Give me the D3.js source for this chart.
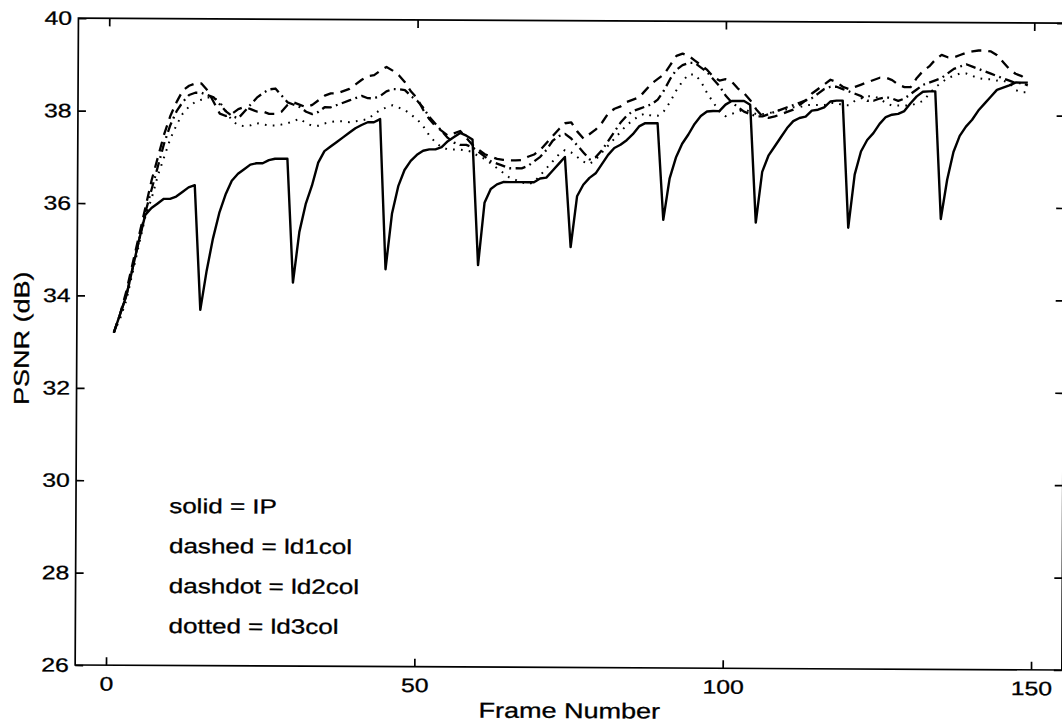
<!DOCTYPE html>
<html>
<head>
<meta charset="utf-8">
<script src="https://cdn.jsdelivr.net/npm/d3@7"></script>
<style>
  html, body { margin: 0; padding: 0; background: #fff; }
  svg { display: block; }
  text { font-family: "Liberation Sans", Arial, Helvetica, sans-serif; fill: #000; stroke: #000; stroke-width: 0.3px; }
</style>
</head>
<body>
<svg id="chart" width="1062" height="727"></svg>
<script>
// Frame index 1..149
const frames = d3.range(1, 150);

// PSNR (dB) per frame, IP coding (solid)
const psnrIP = [
  33.2, 33.6, 34.0, 34.6, 35.2, 35.75, 35.9, 36.0, 36.1, 36.1, 36.15, 36.25, 36.35, 36.4, 33.7,
  34.55, 35.25, 35.8, 36.2, 36.5, 36.65, 36.75, 36.85, 36.88, 36.88, 36.95, 36.98, 36.98, 36.98, 34.3,
  35.4, 36.0, 36.4, 36.9, 37.15, 37.25, 37.35, 37.45, 37.55, 37.65, 37.72, 37.78, 37.78, 37.85, 34.6,
  35.8, 36.4, 36.75, 36.95, 37.08, 37.17, 37.2, 37.2, 37.25, 37.38, 37.47, 37.56, 37.5, 37.42, 34.7,
  36.05, 36.35, 36.45, 36.5, 36.5, 36.5, 36.5, 36.5, 36.5, 36.58, 36.6, 36.75, 36.9, 37.05, 35.1,
  36.2, 36.45, 36.6, 36.7, 36.9, 37.1, 37.25, 37.32, 37.42, 37.55, 37.72, 37.79, 37.79, 37.79, 35.7,
  36.6, 37.05, 37.35, 37.55, 37.78, 37.95, 38.05, 38.06, 38.06, 38.2, 38.28, 38.28, 38.28, 38.2, 35.65,
  36.75, 37.1, 37.3, 37.5, 37.7, 37.85, 37.92, 37.95, 38.08, 38.1, 38.15, 38.28, 38.3, 38.3, 35.55,
  36.7, 37.2, 37.45, 37.6, 37.8, 37.95, 38.0, 38.02, 38.08, 38.25, 38.4, 38.5, 38.51, 38.51, 35.75,
  36.6, 37.2, 37.55, 37.75, 37.9, 38.1, 38.25, 38.4, 38.55, 38.6, 38.65, 38.71, 38.71, 38.71
];

// ld1col (dashed)
const psnrLd1 = [
  33.2, 33.6, 34.1, 34.7, 35.3, 35.9, 36.5, 37.0, 37.5, 37.9, 38.2, 38.45, 38.55, 38.6, 38.6,
  38.45, 38.2, 37.95, 37.9, 37.95, 38.05, 38.1, 38.05, 38.0, 38.0, 37.95, 37.95, 38.0, 38.15, 38.2,
  38.15, 38.1, 38.15, 38.25, 38.35, 38.4, 38.4, 38.45, 38.5, 38.6, 38.7, 38.78, 38.8, 38.9, 38.98,
  38.9, 38.8, 38.65, 38.45, 38.3, 38.05, 37.85, 37.7, 37.6, 37.5, 37.55, 37.6, 37.45, 37.3, 37.2,
  37.1, 37.05, 37.0, 36.98, 36.97, 36.97, 36.98, 37.05, 37.1, 37.2, 37.35, 37.5, 37.65, 37.78, 37.8,
  37.6, 37.45, 37.55, 37.65, 37.8, 38.0, 38.1, 38.15, 38.25, 38.3, 38.35, 38.5, 38.65, 38.75, 38.85,
  39.05, 39.25, 39.3, 39.25, 39.15, 39.05, 38.95, 38.8, 38.72, 38.75, 38.7, 38.55, 38.45, 38.3, 38.1,
  37.95, 37.92, 37.95, 38.0, 38.05, 38.1, 38.2, 38.3, 38.45, 38.55, 38.65, 38.75, 38.7, 38.6, 38.55,
  38.6, 38.65, 38.7, 38.75, 38.8, 38.8, 38.75, 38.65, 38.6, 38.6, 38.8, 38.95, 39.05, 39.2, 39.3,
  39.25, 39.25, 39.3, 39.35, 39.38, 39.4, 39.4, 39.38, 39.3, 39.15, 39.0, 38.9, 38.85, 38.75
];

// ld2col (dash-dot)
const psnrLd2 = [
  33.2, 33.6, 34.0, 34.6, 35.2, 35.8, 36.3, 36.8, 37.3, 37.7, 38.0, 38.2, 38.35, 38.4, 38.4,
  38.35, 38.3, 38.15, 38.0, 37.9, 37.85, 38.0, 38.15, 38.3, 38.4, 38.48, 38.5, 38.35, 38.2, 38.15,
  38.1, 38.0, 37.95, 38.0, 38.1, 38.1, 38.15, 38.2, 38.25, 38.3, 38.35, 38.3, 38.3, 38.35, 38.45,
  38.5, 38.5, 38.48, 38.35, 38.25, 38.1, 37.9, 37.75, 37.6, 37.45, 37.35, 37.3, 37.3, 37.25, 37.15,
  37.05, 36.95, 36.9, 36.85, 36.8, 36.8, 36.8, 36.85, 36.95, 37.05, 37.2, 37.4, 37.5, 37.55, 37.45,
  37.3, 37.15, 37.0, 37.05, 37.2, 37.4, 37.6, 37.8, 37.95, 38.05, 38.1, 38.15, 38.2, 38.3, 38.5,
  38.75, 38.95, 39.05, 39.1, 39.1, 39.0, 38.9, 38.75, 38.6, 38.4, 38.25, 38.15, 38.05, 38.0, 37.95,
  37.95, 38.0, 38.05, 38.1, 38.15, 38.2, 38.25, 38.3, 38.35, 38.45, 38.55, 38.6, 38.6, 38.55, 38.5,
  38.45, 38.4, 38.3, 38.3, 38.35, 38.38, 38.35, 38.3, 38.35, 38.45, 38.55, 38.65, 38.7, 38.75, 38.8,
  38.9, 39.0, 39.05, 39.1, 39.05, 39.0, 38.95, 38.9, 38.85, 38.8, 38.75, 38.7, 38.7, 38.65
];

// ld3col (dotted)
const psnrLd3 = [
  33.2, 33.5, 33.9, 34.5, 35.1, 35.7, 36.1, 36.6, 37.0, 37.4, 37.7, 37.95, 38.1, 38.2, 38.25,
  38.3, 38.3, 38.2, 38.0, 37.8, 37.7, 37.68, 37.7, 37.75, 37.72, 37.7, 37.7, 37.72, 37.75, 37.8,
  37.85, 37.75, 37.7, 37.7, 37.75, 37.78, 37.8, 37.8, 37.78, 37.8, 37.82, 37.85, 37.95, 38.05, 38.1,
  38.15, 38.1, 38.05, 37.95, 37.85, 37.7, 37.5, 37.35, 37.25, 37.2, 37.2, 37.2, 37.18, 37.15, 37.05,
  37.0, 36.9, 36.8, 36.7, 36.6, 36.55, 36.5, 36.45, 36.5, 36.65, 36.8, 36.95, 37.1, 37.2, 37.15,
  37.05, 36.95, 36.9, 37.0, 37.15, 37.3, 37.45, 37.6, 37.75, 37.85, 37.95, 38.0, 37.95, 37.95, 38.05,
  38.25, 38.5, 38.7, 38.85, 38.85, 38.7, 38.45, 38.25, 38.05, 37.95, 38.0, 38.05, 38.1, 38.05, 38.0,
  38.0, 38.02, 38.05, 38.1, 38.1, 38.15, 38.15, 38.2, 38.2, 38.2, 38.2, 38.25, 38.25, 38.2, 38.2,
  38.3, 38.35, 38.4, 38.4, 38.35, 38.25, 38.2, 38.2, 38.2, 38.2, 38.25, 38.3, 38.45, 38.6, 38.7,
  38.8, 38.85, 38.9, 38.9, 38.85, 38.8, 38.78, 38.78, 38.75, 38.75, 38.7, 38.55, 38.5, 38.5
];

const xTicks = [0, 50, 100, 150];
const yTicks = [26, 28, 30, 32, 34, 36, 38, 40];
const legendLines = ["solid = IP", "dashed = ld1col", "dashdot = ld2col", "dotted = ld3col"];

// Plot frame
const plotLeft = 76.8, plotRight = 1063.5, plotTop = 20.7, plotBottom = 667.5;
const stretch = 1.27;   // wide-set lettering
const tickFont = 19.5, legendFont = 20.5, labelFont = 21.3;

const svg = d3.select("#chart");
const root = svg.append("g").attr("transform", "rotate(0.29, 568, 342)");

const x = d3.scaleLinear().domain([-5, 155]).range([plotLeft, plotRight]);
const y = d3.scaleLinear().domain([26, 40]).range([plotBottom, plotTop]);

// Box
root.append("rect")
  .attr("x", plotLeft).attr("y", plotTop)
  .attr("width", plotRight - plotLeft).attr("height", plotBottom - plotTop)
  .attr("fill", "none").attr("stroke", "#000").attr("stroke-width", 1.7);

function styleAxis(g) {
  g.select(".domain").remove();
  g.selectAll(".tick line").attr("stroke", "#000").attr("stroke-width", 1.7);
}

// Bottom axis with labels, ticks pointing inward
const gx = root.append("g").attr("transform", `translate(0,${plotBottom})`)
  .call(d3.axisBottom(x).tickValues(xTicks).tickSize(-8).tickPadding(11.5).tickFormat(d3.format("d")))
  .call(styleAxis);
gx.selectAll(".tick text")
  .attr("font-size", tickFont)
  .attr("font-family", "Liberation Sans, Arial, sans-serif")
  .attr("fill", "#000")
  .attr("transform", `scale(${stretch},1)`);

// Top axis (ticks only)
root.append("g").attr("transform", `translate(0,${plotTop})`)
  .call(d3.axisTop(x).tickValues(xTicks).tickSize(-8).tickFormat(""))
  .call(styleAxis);

// Left axis with labels
const gy = root.append("g").attr("transform", `translate(${plotLeft},0)`)
  .call(d3.axisLeft(y).tickValues(yTicks).tickSize(-8).tickPadding(6.4 / stretch).tickFormat(d3.format("d")))
  .call(styleAxis);
gy.selectAll(".tick text")
  .attr("font-size", tickFont)
  .attr("font-family", "Liberation Sans, Arial, sans-serif")
  .attr("fill", "#000")
  .attr("transform", `scale(${stretch},1)`);

// Right axis (ticks only)
root.append("g").attr("transform", `translate(${plotRight},0)`)
  .call(d3.axisRight(y).tickValues(yTicks).tickSize(-8).tickFormat(""))
  .call(styleAxis);

// Curves
const line = d3.line().x((d, i) => x(frames[i])).y(d => y(d));
const series = [
  { values: psnrLd3, dash: "1.7,6.2", width: 2.0 },
  { values: psnrLd2, dash: "10,4.5,1.8,4.5", width: 2.3 },
  { values: psnrLd1, dash: "10,7", width: 2.3 },
  { values: psnrIP,  dash: null, width: 2.4 }
];
root.append("g").selectAll("path").data(series).join("path")
  .attr("d", s => line(s.values))
  .attr("fill", "none")
  .attr("stroke", "#000")
  .attr("stroke-width", s => s.width)
  .attr("stroke-linejoin", "round")
  .attr("stroke-dasharray", s => s.dash);

// Legend notes
root.append("g").selectAll("text").data(legendLines).join("text")
  .attr("transform", (d, i) => `translate(170,${515 + i * 40}) scale(${stretch},1)`)
  .attr("font-size", legendFont)
  .text(d => d);

// Axis titles
root.append("text")
  .attr("transform", `translate(${(plotLeft + plotRight) / 2 + 1},${718}) scale(${stretch},1)`)
  .attr("text-anchor", "middle")
  .attr("font-size", labelFont)
  .text("Frame Number");

root.append("text")
  .attr("transform", `translate(29,${341}) rotate(-90) scale(${stretch},1)`)
  .attr("text-anchor", "middle")
  .attr("font-size", labelFont)
  .text("PSNR (dB)");
</script>
</body>
</html>
